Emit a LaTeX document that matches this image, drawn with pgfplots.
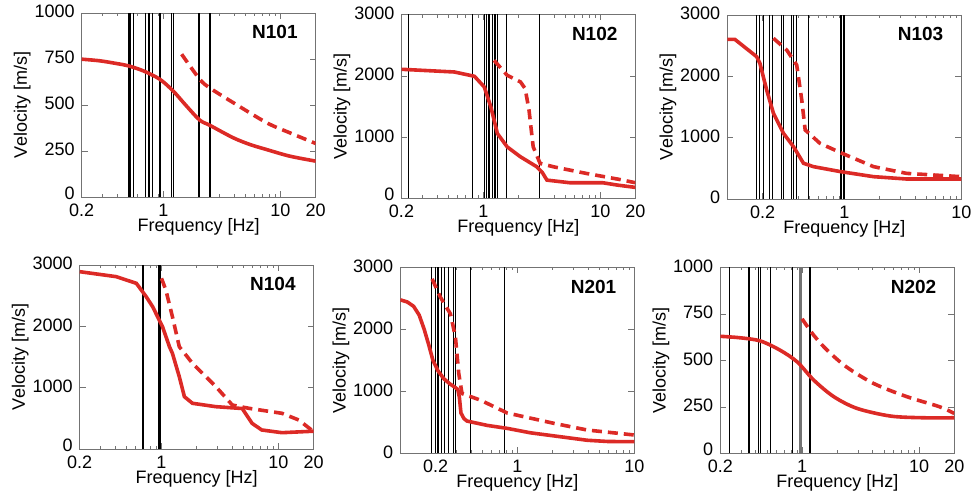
\documentclass[border=0pt]{standalone}
\usepackage{pgfplots}
\pgfplotsset{compat=1.18}
\usepackage{fontspec}
\setmainfont{Liberation Sans}
\definecolor{cred}{RGB}{220,42,38}
\pgfkeys{/pgf/number format/assume math mode=true}
\newcommand{\ttl}[1]{\node[anchor=east,font=\fontsize{9.5}{10}\selectfont\bfseries] at (axis description cs:0.953,0.895) {#1};}
\newcommand{\zl}{\raisebox{2.6pt}{0}}
\begin{document}
\begin{tikzpicture}
\path[use as bounding box] (0,0) rectangle (488pt,251.5pt);
% N101
\begin{axis}[xmode=log, scale only axis, width=117pt, height=92pt,
  axis line style={black!55}, tick style={black!55}, tick align=inside,
  xtick pos=both, ytick pos=both, major tick length=3pt, minor tick length=1.6pt,
  ylabel={Velocity [m/s]}, xlabel={Frequency [Hz]},
  label style={font=\fontsize{9}{10}\selectfont},
  xlabel style={at={(axis description cs:0.5,-0.114)},anchor=north,inner sep=0pt},
  ylabel style={at={(axis description cs:-0.254,0.5)},anchor=center},
  tick label style={font=\fontsize{9}{10}\selectfont},
  xticklabel style={inner ysep=0pt, yshift=-3.2pt},
  yticklabel style={inner ysep=0pt, yshift=0.6pt},
  xmin=0.2, xmax=20, xtick={0.2,1,10,20}, xticklabels={0.2,1,10,20},
  minor xtick={0.3,0.4,0.5,0.6,0.7,0.8,0.9,2,3,4,5,6,7,8,9},
  ymin=0, ymax=1000, ytick={0,250,500,750,1000}, yticklabels={\zl,250,500,750,1000},
  at={(40.85pt,153pt)}, anchor=south west]
\addplot[black, line width=0.55pt, ycomb, mark=none] coordinates {(0.507,1000)(0.527,1000)(0.552,1000)(0.705,1000)(0.752,1000)(0.802,1000)(0.92,1000)(0.94,1000)(1.18,1000)(1.22,1000)(2.01,1000)(2.50,1000)};
\addplot[cred, line width=1.8pt, smooth, mark=none] coordinates {(0.2,749)(0.287,740)(0.40,725)(0.50,713)(0.675,685)(0.93,640)(1.21,576)(1.57,495)(2.04,418)(2.5,389)(3.94,322)(5.5,285)(7.6,258)(12,222)(20,195)};
\addplot[cred, line width=1.8pt, dash pattern=on 5pt off 3pt, smooth, mark=none] coordinates {(1.43,776)(2.04,640)(2.5,592)(3.94,513)(7.6,404)(12,349)(20,291)};
\ttl{N101}
\end{axis}
% N102
\begin{axis}[xmode=log, scale only axis, width=117pt, height=92pt,
  axis line style={black!55}, tick style={black!55}, tick align=inside,
  xtick pos=both, ytick pos=both, major tick length=3pt, minor tick length=1.6pt,
  ylabel={Velocity [m/s]}, xlabel={Frequency [Hz]},
  label style={font=\fontsize{9}{10}\selectfont},
  xlabel style={at={(axis description cs:0.5,-0.114)},anchor=north,inner sep=0pt},
  ylabel style={at={(axis description cs:-0.254,0.5)},anchor=center},
  tick label style={font=\fontsize{9}{10}\selectfont},
  xticklabel style={inner ysep=0pt, yshift=-3.2pt},
  yticklabel style={inner ysep=0pt, yshift=0.6pt},
  xmin=0.2, xmax=20, xtick={0.2,1,10,20}, xticklabels={0.2,1,10,20},
  minor xtick={0.3,0.4,0.5,0.6,0.7,0.8,0.9,2,3,4,5,6,7,8,9},
  ymin=0, ymax=3000, ytick={0,1000,2000,3000}, yticklabels={\zl,1000,2000,3000},
  at={(200.75pt,152.3pt)}, anchor=south west]
\addplot[black, line width=0.55pt, ycomb, mark=none] coordinates {(0.228,3000)(0.806,3000)(1.03,3000)(1.06,3000)(1.10,3000)(1.14,3000)(1.20,3000)(1.26,3000)(1.32,3000)(1.59,3000)(3.02,3000)};
\addplot[cred, line width=1.8pt, mark=none] coordinates {(0.2,2105)(0.566,2061)(0.84,1991)(1.02,1817)(1.16,1492)(1.32,1058)(1.60,841)(2.08,678)(2.87,515)(3.2,420)(3.5,298)(5.5,255)(10.5,255)(14,217)(20,179)};
\addplot[cred, line width=1.8pt, dash pattern=on 5pt off 3pt, mark=none] coordinates {(1.236,2251)(1.60,2007)(2.08,1899)(2.28,1790)(2.46,1438)(2.67,841)(3.06,570)(3.99,515)(7.6,407)(14.6,309)(20,255)};
\ttl{N102}
\end{axis}
% N103
\begin{axis}[xmode=log, scale only axis, width=117pt, height=92pt,
  axis line style={black!55}, tick style={black!55}, tick align=inside,
  xtick pos=both, ytick pos=both, major tick length=3pt, minor tick length=1.6pt,
  ylabel={Velocity [m/s]}, xlabel={Frequency [Hz]},
  label style={font=\fontsize{9}{10}\selectfont},
  xlabel style={at={(axis description cs:0.5,-0.114)},anchor=north,inner sep=0pt},
  ylabel style={at={(axis description cs:-0.254,0.5)},anchor=center},
  tick label style={font=\fontsize{9}{10}\selectfont},
  xticklabel style={inner ysep=0pt, yshift=-3.2pt},
  yticklabel style={inner ysep=0pt, yshift=0.6pt},
  xmin=0.1, xmax=10, xtick={0.2,1,10}, xticklabels={0.2,1,10},
  minor xtick={0.3,0.4,0.5,0.6,0.7,0.8,0.9,2,3,4,5,6,7,8,9},
  ymin=0, ymax=3000, ytick={0,1000,2000,3000}, yticklabels={0,1000,2000,3000},
  at={(363.65pt,152pt)}, anchor=south west]
\addplot[black, line width=0.55pt, ycomb, mark=none] coordinates {(0.179,3000)(0.188,3000)(0.203,3000)(0.229,3000)(0.245,3000)(0.29,3000)(0.30,3000)(0.351,3000)(0.368,3000)(0.393,3000)(0.494,3000)(0.937,3000)(0.98,3000)(1.01,3000)};
\addplot[cred, line width=1.8pt, mark=none] coordinates {(0.1,2603)(0.116,2603)(0.178,2321)(0.19,2212)(0.217,1777)(0.248,1397)(0.302,1071)(0.368,853)(0.448,582)(0.546,527)(0.93,446)(1.78,364)(3.4,326)(10,326)};
\addplot[cred, line width=1.8pt, dash pattern=on 5pt off 3pt, mark=none] coordinates {(0.248,2620)(0.322,2429)(0.392,2185)(0.433,1614)(0.463,1125)(0.62,907)(0.93,755)(1.78,527)(3.4,418)(10,364)};
\ttl{N103}
\end{axis}
% N104
\begin{axis}[xmode=log, scale only axis, width=117pt, height=92pt,
  axis line style={black!55}, tick style={black!55}, tick align=inside,
  xtick pos=both, ytick pos=both, major tick length=3pt, minor tick length=1.6pt,
  ylabel={Velocity [m/s]}, xlabel={Frequency [Hz]},
  label style={font=\fontsize{9}{10}\selectfont},
  xlabel style={at={(axis description cs:0.5,-0.114)},anchor=north,inner sep=0pt},
  ylabel style={at={(axis description cs:-0.254,0.5)},anchor=center},
  tick label style={font=\fontsize{9}{10}\selectfont},
  xticklabel style={inner ysep=0pt, yshift=-3.2pt},
  yticklabel style={inner ysep=0pt, yshift=0.6pt},
  xmin=0.2, xmax=20, xtick={0.2,1,10,20}, xticklabels={0.2,1,10,20},
  minor xtick={0.3,0.4,0.5,0.6,0.7,0.8,0.9,2,3,4,5,6,7,8,9},
  ymin=0, ymax=3000, ytick={0,1000,2000,3000}, yticklabels={\zl,1000,2000,3000},
  at={(39.85pt,27pt)}, anchor=south west]
\addplot[black, line width=0.55pt, ycomb, mark=none] coordinates {(0.695,3000)(0.953,3000)(0.977,3000)};
\addplot[cred, line width=1.8pt, mark=none] coordinates {(0.2,2891)(0.41,2810)(0.61,2701)(0.74,2484)(0.84,2321)(1.02,1995)(1.17,1668)(1.24,1560)(1.42,1179)(1.57,853)(1.84,745)(2.92,690)(4.9,660)(5.95,418)(7.2,310)(10.7,266)(20,290)};
\addplot[cred, line width=1.8pt, dash pattern=on 5pt off 3pt, mark=none] coordinates {(1.0,2783)(1.09,2592)(1.24,2158)(1.42,1668)(1.84,1397)(2.92,1016)(4.03,717)(5.6,663)(10.7,582)(14.9,473)(20,283)};
\ttl{N104}
\end{axis}
% N201
\begin{axis}[xmode=log, scale only axis, width=117pt, height=93pt,
  axis line style={black!55}, tick style={black!55}, tick align=inside,
  xtick pos=both, ytick pos=both, major tick length=3pt, minor tick length=1.6pt,
  ylabel={Velocity [m/s]}, xlabel={Frequency [Hz]},
  label style={font=\fontsize{9}{10}\selectfont},
  xlabel style={at={(axis description cs:0.5,-0.113)},anchor=north,inner sep=0pt},
  ylabel style={at={(axis description cs:-0.254,0.5)},anchor=center},
  tick label style={font=\fontsize{9}{10}\selectfont},
  xticklabel style={inner ysep=0pt, yshift=-3.2pt},
  yticklabel style={inner ysep=0pt, yshift=0.6pt},
  xmin=0.1, xmax=10, xtick={0.2,1,10}, xticklabels={0.2,1,10},
  minor xtick={0.3,0.4,0.5,0.6,0.7,0.8,0.9,2,3,4,5,6,7,8,9},
  ymin=0, ymax=3000, ytick={0,1000,2000,3000}, yticklabels={0,1000,2000,3000},
  at={(200.15pt,24.85pt)}, anchor=south west]
\addplot[black, line width=0.55pt, ycomb, mark=none] coordinates {(0.185,3000)(0.20,3000)(0.21,3000)(0.225,3000)(0.24,3000)(0.26,3000)(0.285,3000)(0.295,3000)(0.40,3000)(0.775,3000)};
\addplot[cred, line width=1.8pt, mark=none] coordinates {(0.1,2475)(0.115,2440)(0.13,2370)(0.145,2230)(0.16,2000)(0.175,1750)(0.19,1500)(0.21,1330)(0.235,1205)(0.265,1120)(0.29,1071)(0.31,1030)(0.32,900)(0.33,650)(0.35,560)(0.372,520)(0.553,450)(0.82,402)(1.3,330)(2.07,280)(3.97,210)(6,190)(10,188)};
\addplot[cred, line width=1.8pt, dash pattern=on 5pt off 3pt, mark=none] coordinates {(0.187,2813)(0.22,2518)(0.268,2250)(0.296,1875)(0.316,1286)(0.337,964)(0.485,857)(0.82,650)(2.07,482)(3.97,375)(10,295)};
\ttl{N201}
\end{axis}
% N202
\begin{axis}[xmode=log, scale only axis, width=117pt, height=93pt,
  axis line style={black!55}, tick style={black!55}, tick align=inside,
  xtick pos=both, ytick pos=both, major tick length=3pt, minor tick length=1.6pt,
  ylabel={Velocity [m/s]}, xlabel={Frequency [Hz]},
  label style={font=\fontsize{9}{10}\selectfont},
  xlabel style={at={(axis description cs:0.5,-0.113)},anchor=north,inner sep=0pt},
  ylabel style={at={(axis description cs:-0.254,0.5)},anchor=center},
  tick label style={font=\fontsize{9}{10}\selectfont},
  xticklabel style={inner ysep=0pt, yshift=-3.2pt},
  yticklabel style={inner ysep=0pt, yshift=0.6pt},
  xmin=0.2, xmax=20, xtick={0.2,1,10,20}, xticklabels={0.2,1,10,20},
  minor xtick={0.3,0.4,0.5,0.6,0.7,0.8,0.9,2,3,4,5,6,7,8,9},
  ymin=0, ymax=1000, ytick={0,250,500,750,1000}, yticklabels={\zl,250,500,750,1000},
  at={(360.15pt,24.85pt)}, anchor=south west]
\addplot[black, line width=0.55pt, ycomb, mark=none] coordinates {(0.238,1000)(0.352,1000)(0.425,1000)(0.44,1000)(0.536,1000)(0.828,1000)(1.15,1000)(1.17,1000)};
\addplot[black!55, line width=1.4pt, ycomb, mark=none] coordinates {(0.97,1000)};
\addplot[cred, line width=1.8pt, smooth, mark=none] coordinates {(0.2,629)(0.296,621)(0.44,604)(0.65,554)(0.91,491)(1.26,393)(1.87,304)(2.96,241)(5.72,200)(11,191)(20,191)};
\addplot[cred, line width=1.8pt, dash pattern=on 5pt off 3pt, smooth, mark=none] coordinates {(1.0,723)(1.26,634)(1.64,554)(2.4,464)(4.1,375)(7.9,304)(15,250)(20,214)};
\ttl{N202}
\end{axis}
\end{tikzpicture}
\end{document}
